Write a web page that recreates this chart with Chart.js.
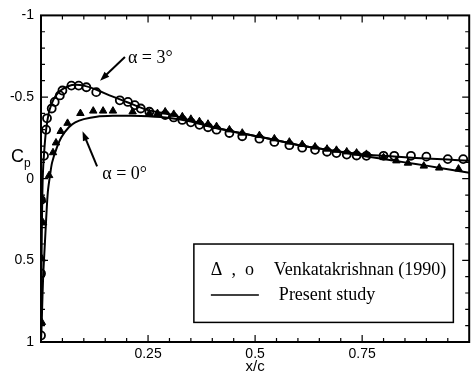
<!DOCTYPE html>
<html>
<head>
<meta charset="utf-8">
<script src="https://cdn.jsdelivr.net/npm/chart.js@4/dist/chart.umd.min.js"></script>
<style>
  html, body { margin: 0; padding: 0; background: #fff; }
  #wrap { width: 475px; height: 377px; }
</style>
</head>
<body>
<div id="wrap"><canvas id="cp"></canvas></div>
<script>
// Computed Cp curves (present study)
const lineX3 = [0, 0.001, 0.002, 0.004, 0.007, 0.012, 0.018, 0.025, 0.035, 0.048, 0.065, 0.08, 0.1, 0.13, 0.16, 0.2, 0.25, 0.3, 0.35, 0.4, 0.45, 0.5, 0.55, 0.6, 0.65, 0.7, 0.75, 0.8, 0.85, 0.9, 0.95, 1.0];
const lineCp3 = [1.0, 0.6, 0.3, 0.0, -0.15, -0.3, -0.4, -0.46, -0.51, -0.545, -0.568, -0.575, -0.57, -0.545, -0.51, -0.47, -0.42, -0.395, -0.355, -0.318, -0.288, -0.262, -0.235, -0.207, -0.185, -0.165, -0.15, -0.14, -0.131, -0.124, -0.117, -0.11];

const lineX0 = [0, 0.002, 0.005, 0.009, 0.012, 0.016, 0.021, 0.026, 0.037, 0.048, 0.065, 0.08, 0.1, 0.13, 0.17, 0.21, 0.25, 0.3, 0.35, 0.4, 0.45, 0.5, 0.55, 0.6, 0.65, 0.7, 0.75, 0.8, 0.85, 0.9, 0.95, 1.0];
const lineCp0 = [1.0, 0.85, 0.6, 0.4, 0.25, 0.08, -0.02, -0.1, -0.19, -0.255, -0.315, -0.345, -0.365, -0.38, -0.385, -0.385, -0.382, -0.372, -0.35, -0.315, -0.288, -0.262, -0.235, -0.207, -0.185, -0.163, -0.14, -0.12, -0.1, -0.08, -0.058, -0.036];

// Venkatakrishnan (1990), alpha = 3 deg (circles)
const circX = [0.0, 0.0, 0.0, 0.007, 0.012, 0.014, 0.025, 0.032, 0.044, 0.05, 0.071, 0.088, 0.106, 0.129, 0.184, 0.203, 0.219, 0.233, 0.253,
  0.29, 0.31, 0.33, 0.35, 0.37, 0.39, 0.41, 0.44, 0.47, 0.51, 0.545, 0.58, 0.61, 0.64, 0.668, 0.69, 0.714, 0.737, 0.76, 0.8, 0.825, 0.864, 0.9, 0.95, 0.986];
const circCp = [0.96, 0.58, 0.13, -0.14, -0.3, -0.37, -0.43, -0.47, -0.51, -0.54, -0.57, -0.57, -0.56, -0.53, -0.48, -0.47, -0.45, -0.43, -0.41,
  -0.39, -0.375, -0.36, -0.345, -0.33, -0.315, -0.3, -0.28, -0.26, -0.245, -0.225, -0.205, -0.19, -0.177, -0.165, -0.157, -0.148, -0.142, -0.14, -0.14, -0.14, -0.14, -0.135, -0.12, -0.12];

// Venkatakrishnan (1990), alpha = 0 deg (triangles)
const triX = [0.002, 0.002, 0.005, 0.003, 0.019, 0.028, 0.035, 0.046, 0.062, 0.092, 0.122, 0.145, 0.168, 0.214, 0.253, 0.272,
  0.29, 0.31, 0.33, 0.35, 0.37, 0.39, 0.41, 0.44, 0.47, 0.51, 0.545, 0.58, 0.61, 0.64, 0.668, 0.69, 0.714, 0.737, 0.76, 0.8, 0.83, 0.857, 0.894, 0.93, 0.975];
const triCp = [0.88, 0.49, 0.27, 0.13, -0.02, -0.16, -0.22, -0.29, -0.34, -0.4, -0.415, -0.415, -0.415, -0.41, -0.4, -0.4,
  -0.41, -0.395, -0.38, -0.365, -0.35, -0.335, -0.32, -0.3, -0.28, -0.265, -0.245, -0.225, -0.21, -0.195, -0.182, -0.175, -0.165, -0.158, -0.15, -0.13, -0.11, -0.096, -0.078, -0.066, -0.06];

// Tick labels
const xTickLabels = [0.25, 0.5, 0.75];
const yTickLabels = [-1, -0.5, 0, 0.5, 1];

const toPoints = (xs, ys) => xs.map((x, i) => ({ x: x, y: ys[i] }));

function arrow(ctx, x1, y1, x2, y2) {
    const ang = Math.atan2(y2 - y1, x2 - x1);
    const head = 10;
    ctx.beginPath();
    ctx.moveTo(x1, y1);
    ctx.lineTo(x2 - Math.cos(ang) * 6, y2 - Math.sin(ang) * 6);
    ctx.lineWidth = 2;
    ctx.stroke();
    ctx.beginPath();
    ctx.moveTo(x2, y2);
    ctx.lineTo(x2 - head * Math.cos(ang - 0.35), y2 - head * Math.sin(ang - 0.35));
    ctx.lineTo(x2 - head * Math.cos(ang + 0.35), y2 - head * Math.sin(ang + 0.35));
    ctx.closePath();
    ctx.fill();
}

// Frame, inward ticks, labels and legend box
const decorations = {
    id: 'decorations',
    afterDraw(chart) {
        const ctx = chart.ctx;
        const area = chart.chartArea;
        const xs = chart.scales.x;
        const ys = chart.scales.y;
        ctx.save();
        ctx.strokeStyle = '#000';
        ctx.fillStyle = '#000';

        // ticks
        ctx.lineWidth = 1.2;
        ctx.beginPath();
        for (let i = 1; i < 20; i++) {
            const v = i * 0.05;
            const len = (i % 5 === 0) ? 7 : 4;
            const px = xs.getPixelForValue(v);
            ctx.moveTo(px, area.bottom); ctx.lineTo(px, area.bottom - len);
            ctx.moveTo(px, area.top); ctx.lineTo(px, area.top + len);
        }
        for (let i = -9; i < 10; i++) {
            const v = i * 0.1;
            const len = (i % 5 === 0) ? 7 : 4;
            const py = ys.getPixelForValue(v);
            ctx.moveTo(area.left, py); ctx.lineTo(area.left + len, py);
            ctx.moveTo(area.right, py); ctx.lineTo(area.right - len, py);
        }
        ctx.stroke();

        // frame
        ctx.lineWidth = 2;
        ctx.strokeRect(area.left, area.top, area.right - area.left, area.bottom - area.top);

        // axis titles
        ctx.font = '18px "Liberation Sans", Arial, sans-serif';
        ctx.textBaseline = 'alphabetic';
        ctx.textAlign = 'left';
        ctx.fillText('C', 11, 162);
        ctx.font = '12px "Liberation Sans", Arial, sans-serif';
        ctx.fillText('p', 24, 167);
        ctx.font = '15px "Liberation Sans", Arial, sans-serif';
        ctx.textAlign = 'center';
        ctx.fillText('x/c', xs.getPixelForValue(0.5), 371);

        // annotations
        ctx.font = '18px "Liberation Serif", "Times New Roman", serif';
        ctx.textAlign = 'left';
        ctx.textBaseline = 'middle';
        ctx.fillText('α = 3°', xs.getPixelForValue(0.203), ys.getPixelForValue(-0.735));
        arrow(ctx, xs.getPixelForValue(0.196), ys.getPixelForValue(-0.745), xs.getPixelForValue(0.138), ys.getPixelForValue(-0.6));
        ctx.fillText('α = 0°', xs.getPixelForValue(0.143), ys.getPixelForValue(-0.03));
        arrow(ctx, xs.getPixelForValue(0.131), ys.getPixelForValue(-0.075), xs.getPixelForValue(0.097), ys.getPixelForValue(-0.29));

        // legend box
        const bx1 = xs.getPixelForValue(0.357), bx2 = xs.getPixelForValue(0.963);
        const by1 = ys.getPixelForValue(0.4), by2 = ys.getPixelForValue(0.88);
        ctx.lineWidth = 1.5;
        ctx.strokeRect(bx1, by1, bx2 - bx1, by2 - by1);
        const row1 = by1 + 26, row2 = by1 + 51;
        ctx.font = '18px "Liberation Serif", "Times New Roman", serif';
        ctx.fillText('Δ  ,  o', bx1 + 17, row1);
        ctx.fillText('Venkatakrishnan (1990)', bx1 + 80, row1);
        ctx.lineWidth = 1.5;
        ctx.beginPath();
        ctx.moveTo(bx1 + 17, row2); ctx.lineTo(bx1 + 65, row2);
        ctx.stroke();
        ctx.fillText('Present study', bx1 + 85, row2);
        ctx.restore();
    }
};

const tickFont = { family: '"Liberation Sans", Arial, sans-serif', size: 14 };

new Chart(document.getElementById('cp'), {
    type: 'scatter',
    data: {
        datasets: [
            {
                label: 'Present study, alpha = 3',
                data: toPoints(lineX3, lineCp3),
                showLine: true,
                borderColor: '#000',
                borderWidth: 2,
                pointRadius: 0,
                tension: 0.3
            },
            {
                label: 'Present study, alpha = 0',
                data: toPoints(lineX0, lineCp0),
                showLine: true,
                borderColor: '#000',
                borderWidth: 2,
                pointRadius: 0,
                tension: 0.3
            },
            {
                label: 'Venkatakrishnan alpha = 0',
                data: toPoints(triX, triCp),
                pointStyle: 'triangle',
                pointRadius: 4.3,
                backgroundColor: '#000',
                borderColor: '#000',
                borderWidth: 1
            },
            {
                label: 'Venkatakrishnan alpha = 3',
                data: toPoints(circX, circCp),
                pointStyle: 'circle',
                pointRadius: 4,
                backgroundColor: 'rgba(255,255,255,0)',
                borderColor: '#000',
                borderWidth: 1.8
            }
        ]
    },
    options: {
        responsive: true,
        maintainAspectRatio: false,
        animation: false,
        layout: { padding: { top: 10, right: 2, left: 0, bottom: 0 } },
        plugins: {
            legend: { display: false },
            tooltip: { enabled: false }
        },
        scales: {
            x: {
                type: 'linear',
                min: 0,
                max: 1,
                grid: { display: false, drawTicks: false },
                border: { display: false },
                afterFit: scale => { scale.height = 35; },
                afterBuildTicks: scale => { scale.ticks = xTickLabels.map(v => ({ value: v })); },
                ticks: {
                    color: '#000',
                    font: tickFont,
                    padding: 4,
                    maxRotation: 0,
                    callback: v => String(v)
                }
            },
            y: {
                type: 'linear',
                reverse: true,
                min: -1,
                max: 1,
                grid: { display: false, drawTicks: false },
                border: { display: false },
                afterFit: scale => { scale.width = 41; },
                afterBuildTicks: scale => { scale.ticks = yTickLabels.map(v => ({ value: v })); },
                ticks: {
                    color: '#000',
                    font: tickFont,
                    padding: 7,
                    callback: v => String(v)
                }
            }
        }
    },
    plugins: [decorations]
});
</script>
</body>
</html>
